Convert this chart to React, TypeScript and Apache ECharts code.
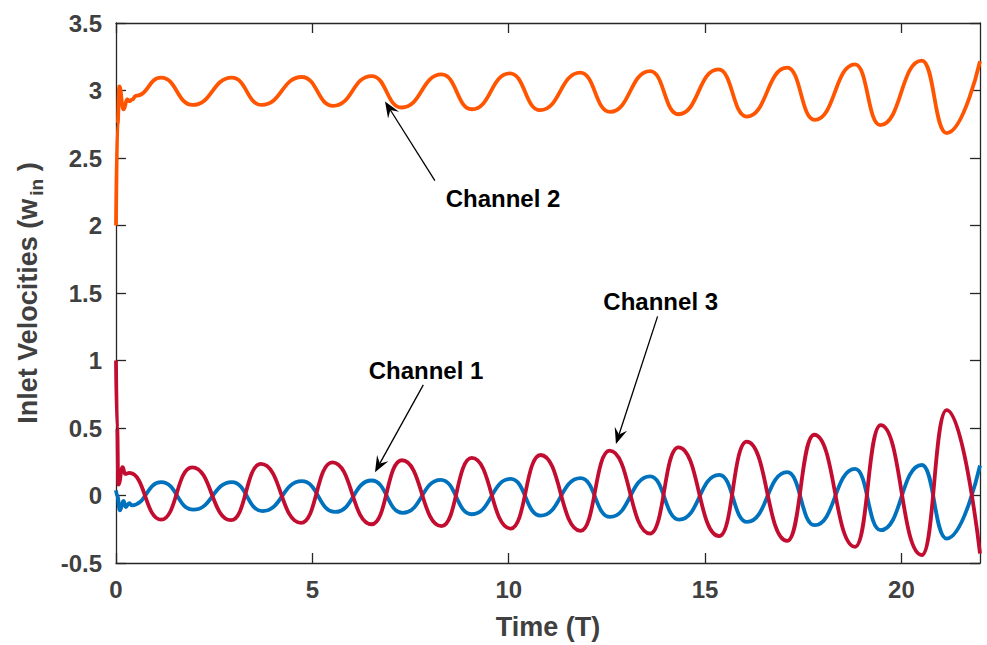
import React, { useEffect, useRef } from "react";
import * as echarts from "echarts";

// ---- data ----
const xTickValues = [0, 5, 10, 15, 20];

// Channel 1 (blue)
const ch1T = [0, 0.03, 0.1, 0.19, 0.25, 0.34, 0.4, 1.15, 1.97, 2.95, 3.73, 4.73, 5.58, 6.51, 7.3, 8.27, 9.06, 10.05, 10.81, 11.83, 12.58, 13.6, 14.34, 15.36, 16.07, 17.09, 17.79, 18.82, 19.47, 20.52, 21.15, 22];
const ch1V = [0.038, 0.0, -0.11, -0.04, -0.085, -0.056, -0.073, 0.099, -0.105, 0.099, -0.115, 0.106, -0.122, 0.111, -0.129, 0.116, -0.139, 0.123, -0.149, 0.128, -0.159, 0.141, -0.179, 0.153, -0.196, 0.173, -0.22, 0.197, -0.257, 0.226, -0.319, 0.222];

// Channel 2 (orange)
const ch2T = [0, 0.04, 0.085, 0.19, 0.29, 0.34, 0.42, 0.5, 1.15, 1.95, 2.95, 3.71, 4.73, 5.53, 6.51, 7.27, 8.29, 9.06, 10.03, 10.8, 11.82, 12.58, 13.6, 14.32, 15.34, 16.06, 17.09, 17.79, 18.82, 19.46, 20.52, 21.15, 22];
const ch2V = [2.0, 2.75, 3.03, 2.86, 2.935, 2.92, 2.935, 2.96, 3.095, 2.893, 3.095, 2.893, 3.1, 2.886, 3.107, 2.874, 3.119, 2.861, 3.127, 2.854, 3.132, 2.841, 3.144, 2.824, 3.156, 2.807, 3.169, 2.783, 3.193, 2.744, 3.222, 2.685, 3.217];

// Channel 3 (red)
const ch3T = [0, 0.03, 0.06, 0.17, 0.23, 0.34, 1.15, 1.94, 2.93, 3.69, 4.71, 5.51, 6.51, 7.28, 8.29, 9.06, 10.05, 10.81, 11.83, 12.57, 13.6, 14.32, 15.36, 16.06, 17.09, 17.78, 18.82, 19.47, 20.52, 21.15, 22];
const ch3V = [1.0, 0.5, 0.08, 0.21, 0.16, 0.167, -0.179, 0.209, -0.183, 0.234, -0.203, 0.246, -0.213, 0.261, -0.227, 0.278, -0.245, 0.3, -0.262, 0.332, -0.282, 0.357, -0.301, 0.399, -0.336, 0.45, -0.38, 0.521, -0.441, 0.632, -0.43];

// annotations (data coordinates)
const annoLabels = ["Channel 2", "Channel 1", "Channel 3"];
const annoTextAt = [[9.855, 2.198], [7.894, 0.928], [13.87, 1.44]];
const annoTail = [[8.12, 2.333], [7.825, 0.819], [13.79, 1.327]];
const annoTip = [[6.85, 2.918], [6.595, 0.173], [12.73, 0.381]];

const FONT = "'Liberation Sans', Arial, Helvetica, sans-serif";
const AXIS_COLOR = "#262626";
const LABEL_COLOR = "#404040";

const zip = (t: number[], v: number[]) => t.map((x, i) => [x, v[i]]);

export default function App() {
  const ref = useRef<HTMLDivElement>(null);

  useEffect(() => {
    document.body.style.margin = "0";
    if (!ref.current) return;
    const chart = echarts.init(ref.current, undefined, { renderer: "svg" });

    const axisLine = { show: true, onZero: false, lineStyle: { color: AXIS_COLOR, width: 1.3 } };
    const axisTick = { show: true, inside: true, length: 10, lineStyle: { color: AXIS_COLOR, width: 1.3 } };

    const lineSeries = (name: string, t: number[], v: number[], color: string) => ({
      name,
      type: "line",
      data: zip(t, v),
      showSymbol: false,
      symbol: "none",
      smooth: 0.5,
      smoothMonotone: "x",
      clip: true,
      lineStyle: { color, width: 3.8 },
      z: 3,
    });

    const tickLabel = {
      color: LABEL_COLOR,
      fontSize: 24,
      fontWeight: "bold",
      fontFamily: FONT,
    };

    chart.setOption({
      animation: false,
      backgroundColor: "#ffffff",
      grid: { left: 116, right: 7, top: 23, bottom: 79, containLabel: false },
      xAxis: [
        {
          type: "value",
          min: 0,
          max: 22,
          interval: 5,
          position: "bottom",
          axisLine,
          axisTick: { ...axisTick, customValues: xTickValues },
          splitLine: { show: false },
          axisLabel: { ...tickLabel, customValues: xTickValues, margin: 14 },
          name: "Time (T)",
          nameLocation: "middle",
          nameGap: 50,
          nameTextStyle: { color: LABEL_COLOR, fontSize: 27, fontWeight: "bold", fontFamily: FONT },
        },
        {
          type: "value",
          min: 0,
          max: 22,
          interval: 5,
          position: "top",
          axisLine,
          axisTick: { ...axisTick, customValues: xTickValues },
          splitLine: { show: false },
          axisLabel: { show: false },
        },
      ],
      yAxis: [
        {
          type: "value",
          min: -0.5,
          max: 3.5,
          interval: 0.5,
          position: "left",
          axisLine,
          axisTick,
          splitLine: { show: false },
          axisLabel: { ...tickLabel, margin: 14 },
          name: "{a|Inlet Velocities (w}{s|in}{a| )}",
          nameLocation: "middle",
          nameGap: 70,
          nameRotate: 90,
          nameTextStyle: {
            color: LABEL_COLOR,
            fontSize: 27,
            fontWeight: "bold",
            fontFamily: FONT,
            rich: {
              a: { color: LABEL_COLOR, fontSize: 27, fontWeight: "bold", fontFamily: FONT },
              s: { color: LABEL_COLOR, fontSize: 19, fontWeight: "bold", fontFamily: FONT, padding: [18, 0, 0, 3] },
            },
          },
        },
        {
          type: "value",
          min: -0.5,
          max: 3.5,
          interval: 0.5,
          position: "right",
          axisLine,
          axisTick,
          splitLine: { show: false },
          axisLabel: { show: false },
        },
      ],
      series: [
        lineSeries("Channel 2", ch2T, ch2V, "#FF5500"),
        lineSeries("Channel 1", ch1T, ch1V, "#0072BD"),
        lineSeries("Channel 3", ch3T, ch3V, "#C20D30"),
      ],
    });

    // annotations: arrows + labels, positioned from data coordinates
    const px = (p: number[]) => chart.convertToPixel({ gridIndex: 0 }, p) as number[];
    const graphics: any[] = [];
    annoLabels.forEach((label, i) => {
      const tip = px(annoTip[i]);
      const tail = px(annoTail[i]);
      const at = px(annoTextAt[i]);
      const dx = tip[0] - tail[0];
      const dy = tip[1] - tail[1];
      const len = Math.hypot(dx, dy);
      const ux = dx / len;
      const uy = dy / len;
      const nx = -uy;
      const ny = ux;
      const L = 16;
      const W = 6.5;
      const N = 10;
      graphics.push({
        type: "line",
        shape: { x1: tail[0], y1: tail[1], x2: tip[0] - ux * N, y2: tip[1] - uy * N },
        style: { stroke: "#000", lineWidth: 1.3 },
        z: 10,
      });
      graphics.push({
        type: "polygon",
        shape: {
          points: [
            [tip[0], tip[1]],
            [tip[0] - ux * L + nx * W, tip[1] - uy * L + ny * W],
            [tip[0] - ux * N, tip[1] - uy * N],
            [tip[0] - ux * L - nx * W, tip[1] - uy * L - ny * W],
          ],
        },
        style: { fill: "#000" },
        z: 10,
      });
      graphics.push({
        type: "text",
        x: at[0],
        y: at[1],
        style: {
          text: label,
          fill: "#000",
          font: `bold 24px ${FONT}`,
          textAlign: "center",
          textVerticalAlign: "middle",
        },
        z: 10,
      });
    });
    chart.setOption({ graphic: graphics });

    return () => chart.dispose();
  }, []);

  return <div ref={ref} style={{ width: 987, height: 645 }} />;
}
